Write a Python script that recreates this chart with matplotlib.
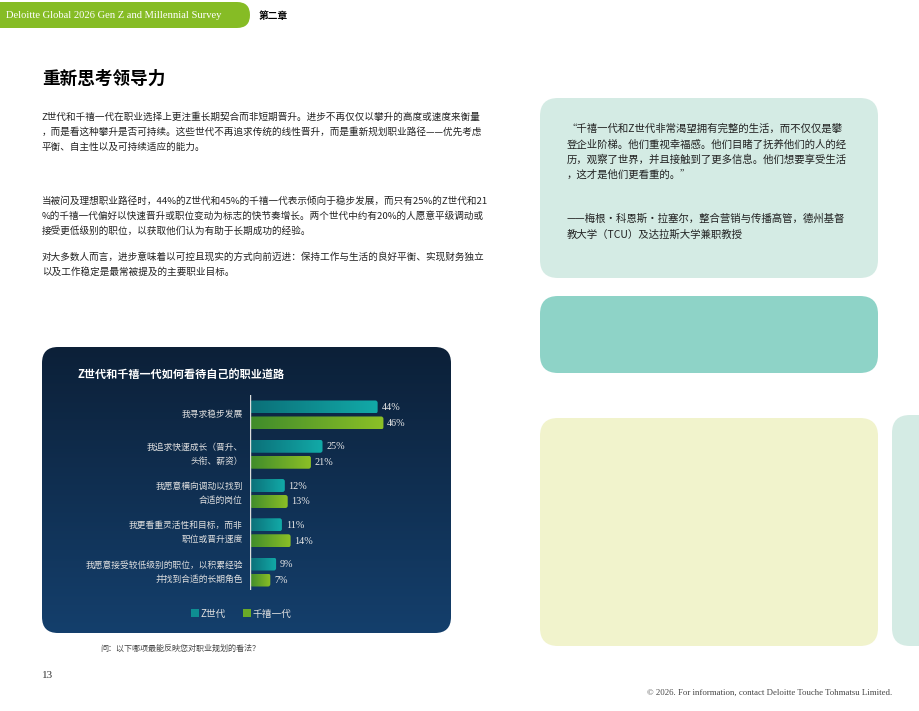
import matplotlib
matplotlib.use("Agg")
import matplotlib.pyplot as plt
import numpy as np
from matplotlib.patches import FancyBboxPatch, Rectangle
from matplotlib.colors import LinearSegmentedColormap

plt.rcParams['font.family'] = ['Noto Sans CJK SC', 'DejaVu Sans']

categories = ["我寻求稳步发展", "我追求快速成长（晋升、\n头衔、薪资）", "我愿意横向调动以找到\n合适的岗位",
              "我更看重灵活性和目标，而非\n职位或晋升速度", "我愿意接受较低级别的职位，以积累经验\n并找到合适的长期角色"]
genz = [44, 25, 12, 11, 9]
millennials = [46, 21, 13, 14, 7]
series_names = ["Z世代", "千禧一代"]

W, H = 920, 711
fig = plt.figure(figsize=(9.2, 7.11), dpi=100)
pg = fig.add_axes([0, 0, 1, 1])
pg.set_xlim(0, W); pg.set_ylim(H, 0); pg.axis('off')

def box(x0, y0, x1, y1, color, r=18, z=1):
    pg.add_patch(FancyBboxPatch((x0 + r, y0 + r), x1 - x0 - 2 * r, y1 - y0 - 2 * r,
                                boxstyle=f"round,pad={r}", fc=color, ec='none', zorder=z))

# header
pg.add_patch(FancyBboxPatch((-20, 2), 270, 26, boxstyle="round,pad=0,rounding_size=13", fc='#86bc25', ec='none'))
pg.text(6, 16, "Deloitte Global 2026 Gen Z and Millennial Survey", color='white', fontsize=7.6,
        family=['Liberation Serif', 'DejaVu Serif'], va='center')
pg.text(259, 16, "第二章", fontsize=7, fontweight='bold', va='center')

pg.text(42, 79, "重新思考领导力", fontsize=12.7, fontweight='bold', va='center')
body = [(117, "Z世代和千禧一代在职业选择上更注重长期契合而非短期晋升。进步不再仅仅以攀升的高度或速度来衡量"),
        (132, "，而是看这种攀升是否可持续。这些世代不再追求传统的线性晋升，而是重新规划职业路径——优先考虑"),
        (147, "平衡、自主性以及可持续适应的能力。"),
        (201, "当被问及理想职业路径时，44%的Z世代和45%的千禧一代表示倾向于稳步发展，而只有25%的Z世代和21"),
        (216, "%的千禧一代偏好以快速晋升或职位变动为标志的快节奏增长。两个世代中约有20%的人愿意平级调动或"),
        (231, "接受更低级别的职位，以获取他们认为有助于长期成功的经验。"),
        (257, "对大多数人而言，进步意味着以可控且现实的方式向前迈进：保持工作与生活的良好平衡、实现财务独立"),
        (272, "以及工作稳定是最常被提及的主要职业目标。")]
for y, t in body:
    pg.text(42, y, t, fontsize=6.9, va='center', color='#222222')

# right panels
box(540, 98, 878, 278, '#d4ebe4')
box(540, 296, 878, 373, '#8ed3c7')
box(540, 418, 878, 646, '#f1f3cc')
box(892, 415, 950, 646, '#d4ebe4')
quote = [(129, "“千禧一代和Z世代非常渴望拥有完整的生活，而不仅仅是攀"),
         (145, "登企业阶梯。他们重视幸福感。他们目睹了抚养他们的人的经"),
         (160, "历，观察了世界，并且接触到了更多信息。他们想要享受生活"),
         (175, "，这才是他们更看重的。”"),
         (219, "——梅根·科恩斯·拉塞尔，整合营销与传播高管，德州基督"),
         (235, "教大学（TCU）及达拉斯大学兼职教授")]
for y, t in quote:
    pg.text(567, y, t, fontsize=7.5, va='center', color='#222222')

# dark panel with gradient
grad = np.linspace(0, 1, 256).reshape(-1, 1)
cm_bg = LinearSegmentedColormap.from_list('bg', ['#0c2038', '#143f6c'])
panel = FancyBboxPatch((42 + 16, 347 + 16), 409 - 32, 286 - 32, boxstyle="round,pad=16", fc='none', ec='none')
pg.add_patch(panel)
im = pg.imshow(grad, extent=(42, 451, 633, 347), cmap=cm_bg, aspect='auto', zorder=1)
im.set_clip_path(panel)
pg.text(78, 375, "Z世代和千禧一代如何看待自己的职业道路", color='white', fontsize=8, fontweight='bold', va='center')
pg.text(100, 648, "问：以下哪项最能反映您对职业规划的看法？", fontsize=5.8, va='center', color='#444444')
pg.text(42, 675, "13", fontsize=8, va='center', color='#333333', family=['Liberation Serif'])
pg.text(892, 693, "© 2026. For information, contact Deloitte Touche Tohmatsu Limited.", fontsize=6.3, ha='right',
        va='center', color='#444444', family=['Liberation Serif'])

# bar chart axes
ax = fig.add_axes([250 / W, 1 - 590 / H, 190 / W, 195 / H])
ax.patch.set_alpha(0)
n = len(categories)
ypos = np.arange(n) * 39.3
bh = 13
cm_z = LinearSegmentedColormap.from_list('z', ['#0b6f78', '#12aaa8'])
cm_m = LinearSegmentedColormap.from_list('m', ['#3f8b2b', '#8cc026'])
hgrad = np.linspace(0, 1, 256).reshape(1, -1)
for i in range(n):
    for v, off, cmap in [(genz[i], 0, cm_z), (millennials[i], 16, cm_m)]:
        yc = ypos[i] + off
        p = FancyBboxPatch((0, yc - bh / 2), v, bh, boxstyle="round,pad=0,rounding_size=0.8",
                           fc='none', ec='none', mutation_aspect=3)
        ax.add_patch(p)
        g = ax.imshow(hgrad, extent=(0, v, yc + bh / 2, yc - bh / 2), cmap=cmap, aspect='auto', zorder=2)
        g.set_clip_path(p)
        ax.text(v + 1.3, yc + 0.5, f"{v}%", color='#e8e8e8', fontsize=7.3, va='center',
                family=['Liberation Serif', 'DejaVu Serif'])
    ax.text(-2.5, ypos[i] + 8, categories[i], color='#e0e0e0', fontsize=6.3, ha='right', va='center',
            linespacing=1.7)
ax.set_xlim(0, 65.5)
ax.set_ylim(ypos[-1] + 26, -12)
ax.axvline(0, color='#dddddd', lw=1)
for s in ax.spines.values():
    s.set_visible(False)
ax.set_xticks([]); ax.set_yticks([])

# legend
pg.add_patch(Rectangle((191, 609), 8, 8, fc='#0e8e92'))
pg.text(201, 614, series_names[0], color='#e0e0e0', fontsize=7, va='center')
pg.add_patch(Rectangle((243, 609), 8, 8, fc='#6aaa28'))
pg.text(253, 614, series_names[1], color='#e0e0e0', fontsize=7, va='center')

fig.savefig("out.png", dpi=100)
